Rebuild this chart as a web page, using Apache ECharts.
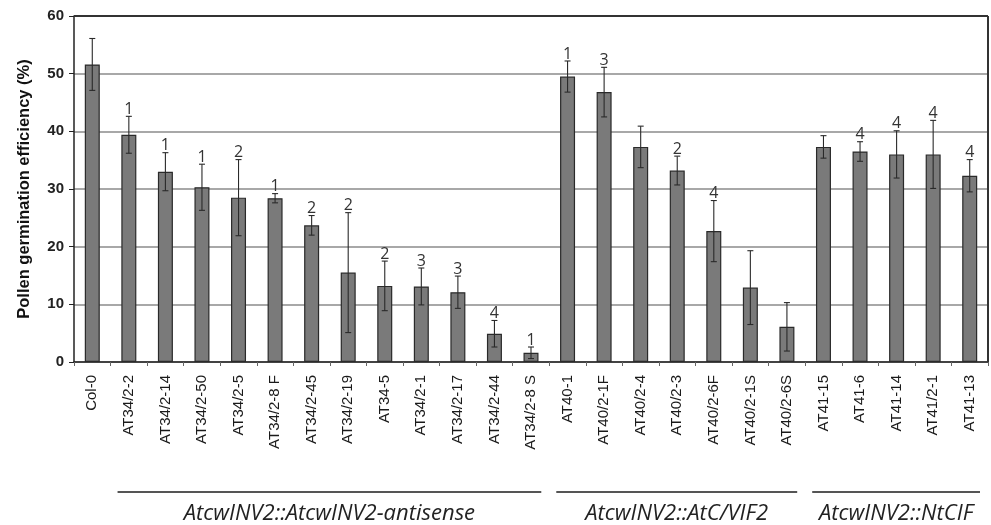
<!DOCTYPE html>
<html>
<head>
<meta charset="utf-8">
<script src="https://cdn.jsdelivr.net/npm/echarts@6/dist/echarts.min.js"></script>
<style>
html,body{margin:0;padding:0;background:#fff;}
#chart{width:991px;height:525px;}
</style>
</head>
<body>
<div id="chart"></div>
<script>
const categories = ["Col-0","AT34/2-2","AT34/2-14","AT34/2-50","AT34/2-5","AT34/2-8 F","AT34/2-45","AT34/2-19","AT34-5","AT34/2-1","AT34/2-17","AT34/2-44","AT34/2-8 S","AT40-1","AT40/2-1F","AT40/2-4","AT40/2-3","AT40/2-6F","AT40/2-1S","AT40/2-6S","AT41-15","AT41-6","AT41-14","AT41/2-1","AT41-13"];
const means = [51.6,39.4,33.0,30.3,28.5,28.4,23.7,15.5,13.2,13.1,12.1,4.9,1.6,49.5,46.8,37.3,33.2,22.7,12.9,6.1,37.3,36.5,36.0,36.0,32.3];
const errors = [4.5,3.2,3.3,4.0,6.6,0.8,1.7,10.4,4.3,3.2,2.8,2.3,1.0,2.7,4.3,3.6,2.5,5.3,6.4,4.2,1.95,1.7,4.1,5.9,2.8];
const sigLabels = ["","1","1","1","2","1","2","2","2","3","3","4","1","1","3","","2","4","","","","4","4","4","4"];
const groupNames = ["AtcwINV2::AtcwINV2-antisense","AtcwINV2::AtC/VIF2","AtcwINV2::NtCIF"];
const groupStart = [1,13,20];
const groupEnd = [12,19,24];
const yTicks = [0,10,20,30,40,50,60];

const chart = echarts.init(document.getElementById('chart'));
const errData = means.map((m,i)=>[i,m-errors[i],m+errors[i],sigLabels[i]]);

const option = {
  animation:false,
  grid:{left:74,right:3,top:16,bottom:163,show:false},
  xAxis:{
    type:'category',data:categories,
    axisLine:{lineStyle:{color:'#222',width:1.5}},
    axisTick:{show:true,alignWithLabel:false,length:4,lineStyle:{color:'#666'}},
    axisLabel:{rotate:90,interval:0,margin:13,fontFamily:'Liberation Sans, Arial, sans-serif',fontSize:15,color:'#1a1a1a'}
  },
  yAxis:{
    type:'value',min:yTicks[0],max:yTicks[yTicks.length-1],interval:10,
    name:'Pollen germination efficiency (%)',nameLocation:'middle',nameGap:41,
    nameTextStyle:{fontFamily:'Liberation Sans, Arial, sans-serif',fontWeight:'bold',fontSize:16.5,color:'#111'},
    axisLine:{show:true,lineStyle:{color:'#222',width:1.5}},
    axisTick:{show:true,length:5,lineStyle:{color:'#222'}},
    axisLabel:{fontFamily:'Liberation Sans, Arial, sans-serif',fontWeight:'bold',fontSize:15,color:'#222',margin:10},
    splitLine:{show:true,lineStyle:{color:'#a8a8a8',width:2}}
  },
  series:[
    {type:'bar',data:means,barWidth:15,
     itemStyle:{color:'#7a7a7a',borderColor:'#2a2a2a',borderWidth:1.2},z:2},
    {type:'custom',data:errData,z:5,
     renderItem:function(params,api){
       const x = api.coord([api.value(0),0])[0];
       const lo = api.coord([api.value(0),api.value(1)])[1];
       const hi = api.coord([api.value(0),api.value(2)])[1];
       const lab = sigLabels[params.dataIndex];
       const cw=3;
       const st={stroke:'#2a2a2a',lineWidth:1.1};
       const children=[
         {type:'line',shape:{x1:x,y1:lo,x2:x,y2:hi},style:st},
         {type:'line',shape:{x1:x-cw,y1:hi,x2:x+cw,y2:hi},style:st},
         {type:'line',shape:{x1:x-cw,y1:lo,x2:x+cw,y2:lo},style:st}
       ];
       if(lab){
         children.push({type:'text',style:{text:lab,x:x,y:hi+1,textAlign:'center',textVerticalAlign:'bottom',
           font:'16px "Open Sans", "Noto Sans", sans-serif',fill:'#333'}});
       }
       return {type:'group',children:children};
     }}
  ]
};
chart.setOption(option);

// plot frame (top and right borders) and group annotations, positioned via axis conversion
const g=[];
const pTop = chart.convertToPixel({yAxisIndex:0},yTicks[yTicks.length-1]);
const pBot = chart.convertToPixel({yAxisIndex:0},yTicks[0]);
const x0 = chart.convertToPixel({xAxisIndex:0},0);
const x1 = chart.convertToPixel({xAxisIndex:0},1);
const bw = x1-x0;
const leftEdge = x0-bw/2, rightEdge = chart.convertToPixel({xAxisIndex:0},categories.length-1)+bw/2;
g.push({type:'line',shape:{x1:leftEdge,y1:pTop,x2:rightEdge,y2:pTop},style:{stroke:'#333',lineWidth:2},z:10});
g.push({type:'line',shape:{x1:rightEdge,y1:pTop,x2:rightEdge,y2:pBot},style:{stroke:'#333',lineWidth:2},z:10});
for(let k=0;k<groupNames.length;k++){
  const a = chart.convertToPixel({xAxisIndex:0},groupStart[k])-bw/2+7;
  const b = chart.convertToPixel({xAxisIndex:0},groupEnd[k])+bw/2-8;
  g.push({type:'line',shape:{x1:a,y1:492,x2:b,y2:492},style:{stroke:'#555',lineWidth:2}});
  g.push({type:'text',style:{text:groupNames[k],x:(a+b)/2,y:514,textAlign:'center',textVerticalAlign:'middle',
    font:'italic 22px "Open Sans", "Noto Sans", sans-serif',fill:'#222'}});
}
chart.setOption({graphic:g});
</script>
</body>
</html>
